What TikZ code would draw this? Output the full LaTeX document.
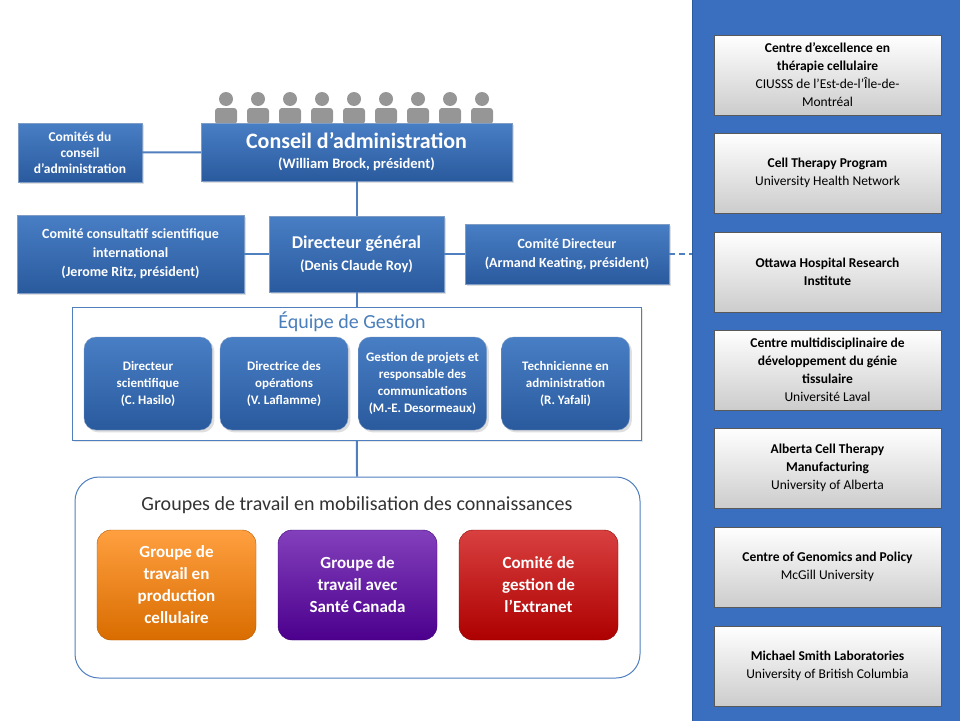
\documentclass[tikz,border=0pt]{standalone}
\usepackage{fontspec}
\setmainfont{Carlito}
\usetikzlibrary{positioning,calc,shadows}

\definecolor{boxblue}{HTML}{3470BE}
\definecolor{boxdark}{HTML}{2A5A9E}
\definecolor{panelblue}{HTML}{3A6FC0}
\definecolor{lineblue}{HTML}{4F7FBF}
\definecolor{titleblue}{HTML}{4A7EBB}
\definecolor{personc}{HTML}{969696}

\tikzset{
  bluebox/.style={draw=boxdark!60!white, top color=boxblue!90!white, bottom color=boxdark, text=white,
    font=\bfseries, align=center, inner sep=2pt, drop shadow={opacity=0.25}},
  teambox/.style={bluebox, rounded corners=12pt, minimum width=128pt, minimum height=93pt},
  grpbox/.style={rounded corners=14pt, draw=#1!70!black, top color=#1!75!white, bottom color=#1!85!black,
    text=white, font=\bfseries\fontsize{17}{22}\selectfont, align=center, minimum width=159pt, minimum height=110pt},
  sitebox/.style={draw=gray!70!black, top color=white, bottom color=gray!40, align=center,
    minimum width=227pt, minimum height=80pt, font=\fontsize{13.5}{18}\selectfont},
  conn/.style={lineblue, line width=2pt}
}
\newcommand{\person}[1]{%
  \fill[personc] ($(#1)+(0,7)$) circle (7);
  \fill[personc, rounded corners=3pt] ($(#1)+(-11,16)$) rectangle ($(#1)+(11,32)$);}

\begin{document}
\begin{tikzpicture}[x=1pt,y=-1pt]
  \useasboundingbox (0,0) rectangle (960,720);
  % right panel
  \fill[panelblue, draw=boxdark] (692,-2) rectangle (962,722);
  \foreach \n/\y/\txt in {
      a/75/{\textbf{Centre d'excellence en}\\\textbf{thérapie cellulaire}\\CIUSSS de l'Est-de-l'Île-de-\\Montréal},
      b/173/{\textbf{Cell Therapy Program}\\University Health Network},
      c/272/{\textbf{Ottawa Hospital Research}\\\textbf{Institute}},
      d/370/{\textbf{Centre multidisciplinaire de}\\\textbf{développement du génie}\\\textbf{tissulaire}\\Université Laval},
      e/468/{\textbf{Alberta Cell Therapy}\\\textbf{Manufacturing}\\University of Alberta},
      f/567/{\textbf{Centre of Genomics and Policy}\\McGill University},
      g/666/{\textbf{Michael Smith Laboratories}\\University of British Columbia}}
    \node[sitebox] (site-\n) at (827.5,\y) {\txt};

  % people above the board
  \foreach \i in {0,...,8}
    \coordinate (p\i) at (226+32*\i,92);
  \foreach \i in {0,...,8} {\person{p\i}}

  \node[bluebox, minimum width=311pt, minimum height=58pt, font=\bfseries\fontsize{14.5}{20}\selectfont] (conseil) at (356.5,152)
    {{\fontsize{22}{24}\selectfont Conseil d'administration}\\(William Brock, président)};
  \node[bluebox, minimum width=124pt, minimum height=59pt, font=\bfseries\fontsize{13.5}{16}\selectfont] (comites) at (80,152.5)
    {Comités du\\conseil\\d'administration};
  \node[bluebox, minimum width=175pt, minimum height=76pt, font=\bfseries\fontsize{14.5}{20}\selectfont] (dg) at (356.5,254)
    {{\fontsize{18}{20}\selectfont Directeur général}\\[2pt](Denis Claude Roy)};
  \node[bluebox, minimum width=227pt, minimum height=78pt, font=\bfseries\fontsize{14}{19}\selectfont] (ccsi) at (130.5,254)
    {Comité consultatif scientifique\\international\\(Jerome Ritz, président)};
  \node[bluebox, minimum width=204pt, minimum height=60pt, font=\bfseries\fontsize{14}{19}\selectfont] (cdir) at (567,254)
    {Comité Directeur\\(Armand Keating, président)};
  \coordinate (panel) at (692,254);

  \draw[conn] (comites) -- (conseil);
  \draw[conn] (conseil) -- (dg);
  \draw[conn] (ccsi) -- (dg);
  \draw[conn] (dg) -- (cdir);
  \draw[conn, dashed, dash pattern=on 6pt off 4pt] (cdir) -- (panel);

  % management team
  \node[draw=lineblue, fill=white, minimum width=569pt, minimum height=133pt, drop shadow={opacity=0.2}] (equipe) at (356.5,373.5) {};
  \node[titleblue, font=\fontsize{20}{22}\selectfont] (equipe-t) at (352,322) {Équipe de Gestion};
  \foreach \n/\x/\txt in {
      ds/148/{Directeur\\scientifique\\(C. Hasilo)},
      do/284/{Directrice des\\opérations\\(V. Laflamme)},
      gp/422.5/{Gestion de projets et\\responsable des\\communications\\(M.-E. Desormeaux)},
      ta/565.5/{Technicienne en\\administration\\(R. Yafali)}}
    \node[teambox, font=\bfseries\fontsize{13}{17}\selectfont] (\n) at (\x,383.5) {\txt};
  \draw[conn] (dg) -- (equipe);

  % working groups
  \node[draw=lineblue, line width=1pt, fill=white, rounded corners=24pt, minimum width=565pt, minimum height=201pt] (groupes) at (357.5,577.5) {};
  \node[font=\fontsize{20}{22}\selectfont, text=black!80] (groupes-t) at (357,505) {Groupes de travail en mobilisation des connaissances};
  \draw[conn] (equipe) -- (groupes);
  \node[grpbox=orange] (gp1) at (176.5,585) {Groupe de\\travail en\\production\\cellulaire};
  \node[grpbox=violet!70!blue] (gp2) at (357.5,585) {Groupe de\\travail avec\\Santé Canada};
  \node[grpbox=red!80!black] (gp3) at (538.5,585) {Comité de\\gestion de\\l'Extranet};
\end{tikzpicture}
\end{document}
